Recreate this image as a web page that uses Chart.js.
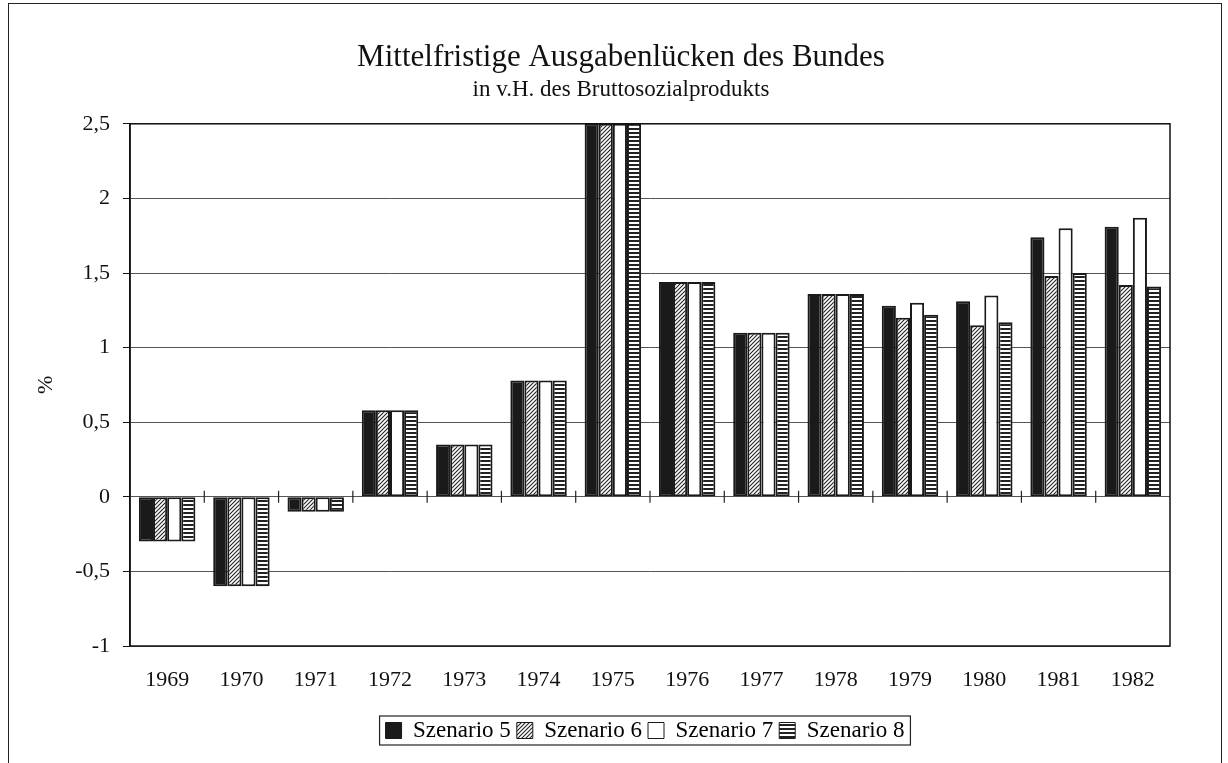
<!DOCTYPE html>
<html>
<head>
<meta charset="utf-8">
<script src="https://cdn.jsdelivr.net/npm/chart.js@4/dist/chart.umd.min.js"></script>
<style>
  body { margin: 0; background: #fff; overflow: hidden; }
  #frame { position: absolute; left: 8px; top: 3px; width: 1214px; height: 800px; border: 1.5px solid #222; box-sizing: border-box; }
  #chart { position: absolute; left: 0; top: 0; }
</style>
</head>
<body>
<div id="frame"></div>
<canvas id="chart" width="1228" height="763"></canvas>
<script>
const years = ["1969", "1970", "1971", "1972", "1973", "1974", "1975", "1976", "1977", "1978", "1979", "1980", "1981", "1982"];
const szenario5 = [-0.3, -0.6, -0.1, 0.58, 0.35, 0.78, 2.5, 1.44, 1.1, 1.36, 1.28, 1.31, 1.74, 1.81];
const szenario6 = [-0.3, -0.6, -0.1, 0.58, 0.35, 0.78, 2.5, 1.44, 1.1, 1.36, 1.2, 1.15, 1.48, 1.42];
const szenario7 = [-0.3, -0.6, -0.1, 0.58, 0.35, 0.78, 2.5, 1.44, 1.1, 1.36, 1.3, 1.35, 1.8, 1.87];
const szenario8 = [-0.3, -0.6, -0.1, 0.58, 0.35, 0.78, 2.5, 1.44, 1.1, 1.36, 1.22, 1.17, 1.5, 1.41];
const yTicks = [-1, -0.5, 0, 0.5, 1, 1.5, 2, 2.5];

const serif = "'Liberation Serif', 'DejaVu Serif', serif";
const titleText = "Mittelfristige Ausgabenlücken des Bundes";
const subtitleText = "in v.H. des Bruttosozialprodukts";

function makePattern(kind) {
    const c = document.createElement("canvas");
    c.width = 4;
    c.height = 4;
    const g = c.getContext("2d");
    g.fillStyle = "#fff";
    g.fillRect(0, 0, 4, 4);
    g.strokeStyle = "#222";
    if (kind === "diag") {
        g.lineWidth = 1.1;
        g.beginPath();
        g.moveTo(-1, 5); g.lineTo(5, -1);
        g.moveTo(-1, 1); g.lineTo(1, -1);
        g.moveTo(3, 5); g.lineTo(5, 3);
        g.stroke();
    } else {
        g.fillStyle = "#222";
        g.fillRect(0, 0, 4, 2);
    }
    return g.createPattern(c, "repeat");
}

// title sits near the page centre, legend under the plot centre
const nudgeBoxes = {
    id: "nudgeBoxes",
    afterLayout(chart) {
        chart.boxes.forEach(b => {
            if (b.options && (b.options.text === titleText || b.options.text === subtitleText)) {
                b.left += 26;
                b.right += 26;
            }
        });
        chart.legend.left += 50;
        chart.legend.right += 50;
    }
};

// little tick marks across the zero line between the categories
const zeroTicks = {
    id: "zeroTicks",
    afterDatasetsDraw(chart) {
        const x = chart.scales.x, y = chart.scales.y;
        const ctx = chart.ctx;
        const y0 = y.getPixelForValue(0);
        const step = x.width / years.length;
        ctx.save();
        ctx.strokeStyle = "#222";
        ctx.lineWidth = 1.2;
        ctx.beginPath();
        for (let i = 1; i < years.length; i++) {
            const px = x.getPixelForValue(i) - step / 2;
            ctx.moveTo(px, y0 - 6);
            ctx.lineTo(px, y0 + 6);
        }
        ctx.stroke();
        ctx.strokeStyle = "#111";
        ctx.lineWidth = 1.5;
        ctx.strokeRect(chart.chartArea.left, chart.chartArea.top, chart.chartArea.width, chart.chartArea.height);
        ctx.restore();
    }
};

// frame around the legend
const legendBox = {
    id: "legendBox",
    afterDraw(chart) {
        const items = chart.legend.legendHitBoxes;
        if (!items || !items.length) return;
        let l = Infinity, r = -Infinity, t = Infinity, b = -Infinity;
        items.forEach(h => {
            l = Math.min(l, h.left); r = Math.max(r, h.left + h.width);
            t = Math.min(t, h.top); b = Math.max(b, h.top + h.height);
        });
        const ctx = chart.ctx;
        ctx.save();
        ctx.strokeStyle = "#222";
        ctx.lineWidth = 1.2;
        ctx.strokeRect(l - 6, t - 3, r - l + 12, b - t + 6);
        ctx.restore();
    }
};

function ds(label, data, fill) {
    return {
        label: label,
        data: data,
        backgroundColor: fill,
        borderColor: "#1a1a1a",
        borderWidth: 2,
        borderSkipped: false,
        categoryPercentage: 0.76,
        barPercentage: 1.0
    };
}

new Chart(document.getElementById("chart"), {
    type: "bar",
    data: {
        labels: years,
        datasets: [
            ds("Szenario 5", szenario5, "#1a1a1a"),
            ds("Szenario 6", szenario6, makePattern("diag")),
            ds("Szenario 7", szenario7, "#ffffff"),
            ds("Szenario 8", szenario8, makePattern("horiz"))
        ]
    },
    options: {
        responsive: false,
        animation: false,
        layout: { padding: { left: 20, right: 58, top: 20, bottom: 11 } },
        plugins: {
            title: {
                display: true,
                text: titleText,
                color: "#111",
                font: { family: serif, size: 31, weight: "normal" },
                padding: { top: 19, bottom: 0 }
            },
            subtitle: {
                display: true,
                text: subtitleText,
                color: "#111",
                font: { family: serif, size: 23, weight: "normal" },
                padding: { top: 0, bottom: 20 }
            },
            legend: {
                position: "bottom",
                labels: {
                    color: "#111",
                    font: { family: serif, size: 23 },
                    boxWidth: 16,
                    boxHeight: 16,
                    padding: 6,
                    generateLabels(chart) {
                        return chart.data.datasets.map((d, i) => ({
                            text: d.label,
                            fillStyle: d.backgroundColor,
                            strokeStyle: "#1a1a1a",
                            lineWidth: 1,
                            datasetIndex: i
                        }));
                    }
                }
            },
            tooltip: { enabled: false }
        },
        scales: {
            x: {
                grid: { display: false, drawTicks: false },
                border: { display: false },
                ticks: { color: "#111", font: { family: serif, size: 22 }, padding: 21 },
                afterFit(scale) { scale.height = 67; }
            },
            y: {
                min: -1,
                max: 2.5,
                afterBuildTicks(scale) { scale.ticks = yTicks.map(v => ({ value: v })); },
                grid: {
                    color: "#555",
                    lineWidth: 1,
                    tickLength: 7,
                    tickColor: "#111"
                },
                border: { color: "#111", width: 1.5 },
                ticks: {
                    color: "#111",
                    font: { family: serif, size: 22 },
                    padding: 13,
                    callback: v => String(v).replace(".", ",")
                },
                title: {
                    display: true,
                    text: "%",
                    color: "#111",
                    font: { family: serif, size: 22 },
                    padding: { top: 13, bottom: 0 }
                },
                afterFit(scale) { scale.width = 110; }
            }
        }
    },
    plugins: [nudgeBoxes, zeroTicks, legendBox]
});
</script>
</body>
</html>
